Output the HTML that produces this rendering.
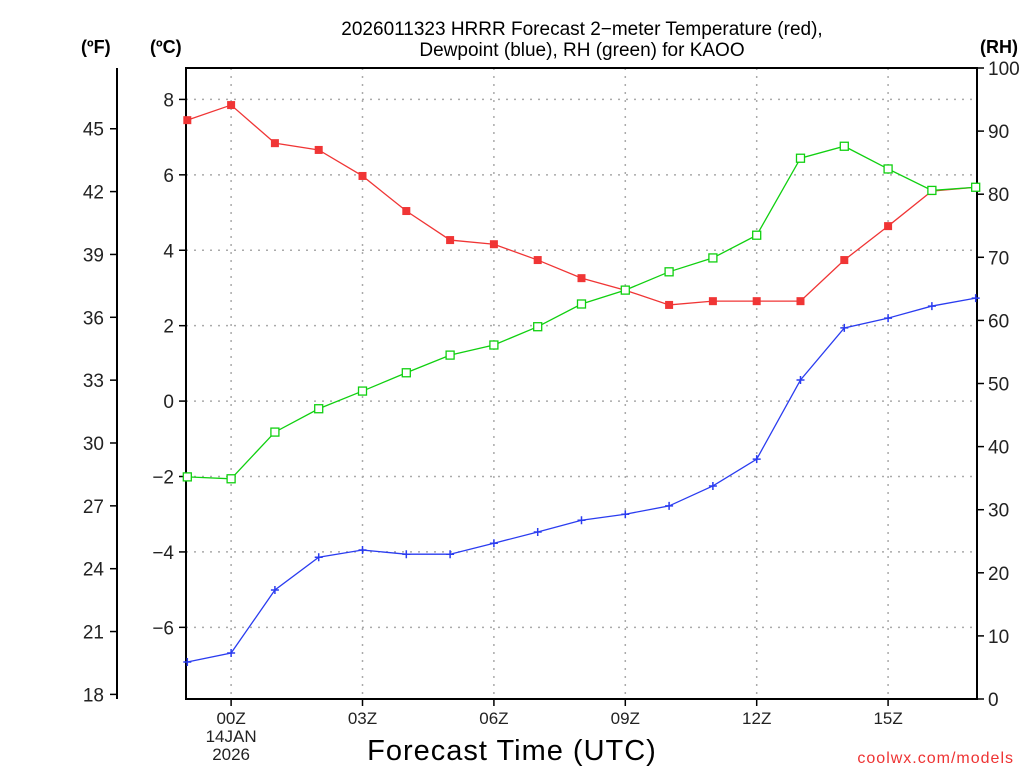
<!DOCTYPE html>
<html><head><meta charset="utf-8"><style>
html,body{margin:0;padding:0;background:#fff;}
svg text{font-family:"Liberation Sans",sans-serif;}
</style></head><body>
<svg id="chart" width="1024" height="768" xmlns="http://www.w3.org/2000/svg"></svg>
<script>
const hours = [-1,0,1,2,3,4,5,6,7,8,9,10,11,12,13,14,15,16,17];
const tempC = [7.45,7.85,6.84,6.66,5.97,5.04,4.27,4.16,3.74,3.26,2.94,2.55,2.65,2.65,2.65,3.74,4.64,5.57,5.67];
const dewC = [-6.92,-6.68,-5.01,-4.14,-3.95,-4.06,-4.06,-3.77,-3.47,-3.16,-3.00,-2.78,-2.25,-1.54,0.56,1.94,2.20,2.52,2.73];
const rh = [35.2,34.9,42.3,46.0,48.8,51.7,54.5,56.1,59.0,62.6,64.8,67.7,69.9,73.5,85.7,87.6,84.0,80.6,81.1];
const cTicks = [-6,-4,-2,0,2,4,6,8];
const fTicks = [18,21,24,27,30,33,36,39,42,45];
const rhTicks = [0,10,20,30,40,50,60,70,80,90,100];
const xTickHours = [0,3,6,9,12,15];
const xTickLabels = ["00Z","03Z","06Z","09Z","12Z","15Z"];

const svg = document.getElementById('chart');
const NS = "http://www.w3.org/2000/svg";
const L=186,R=977,T=68,B=699;
const xMin=-1.03,xMax=17.03;
const cMin=-7.9,cMax=8.833;
const X = h => L+(h-xMin)/(xMax-xMin)*(R-L);
const YC = c => B-(c-cMin)/(cMax-cMin)*(B-T);
const YF = f => YC((f-32)*5/9);
const YR = r => B-r/100*(B-T);
function el(tag, attrs, parent){const e=document.createElementNS(NS,tag);for(const k in attrs)e.setAttribute(k,attrs[k]);(parent||svg).appendChild(e);return e;}
function txt(s,x,y,attrs){const e=el('text',Object.assign({x:x,y:y},attrs||{}));e.textContent=s;return e;}

// grid
const grid = el('g',{});


cTicks.forEach(c=>el('line',{x1:L,x2:R,y1:YC(c),y2:YC(c),stroke:'#aaa','stroke-dasharray':'2,6','stroke-width':1.5},grid));
xTickHours.forEach(h=>el('line',{x1:X(h),x2:X(h),y1:T,y2:B,stroke:'#aaa','stroke-dasharray':'2,6','stroke-width':1.5},grid));

// frame
const frame = el('rect',{x:L,y:T,width:R-L,height:B-T,fill:'none',stroke:'#000','stroke-width':2});



// C axis
const cAx = el('g',{});


cTicks.forEach(c=>{el('line',{x1:L-7,x2:L,y1:YC(c),y2:YC(c),stroke:'#000','stroke-width':1.5},cAx);
 const t=txt((c<0?'\u2212':'')+Math.abs(c),L-12,YC(c)+7,{'text-anchor':'end','font-size':19,fill:'#222'});cAx.appendChild(t);});
// F axis
const fAx = el('g',{});


el('line',{x1:117,x2:117,y1:T,y2:B,stroke:'#000','stroke-width':2},fAx);
fTicks.forEach(f=>{el('line',{x1:110,x2:117,y1:YF(f),y2:YF(f),stroke:'#000','stroke-width':1.5},fAx);
 const t=txt(String(f),104,YF(f)+7,{'text-anchor':'end','font-size':19,fill:'#222'});fAx.appendChild(t);});
// RH axis
const rAx = el('g',{});


rhTicks.forEach(r=>{el('line',{x1:R,x2:R+7,y1:YR(r),y2:YR(r),stroke:'#000','stroke-width':1.5},rAx);
 const t=txt(String(r),988,YR(r)+7,{'font-size':19,fill:'#222'});rAx.appendChild(t);});
// X axis
const xAx = el('g',{});


xTickHours.forEach((h,i)=>{el('line',{x1:X(h),x2:X(h),y1:B,y2:B+7,stroke:'#000','stroke-width':1.5},xAx);
 const t=txt(xTickLabels[i],X(h),724,{'text-anchor':'middle','font-size':17,fill:'#222'});xAx.appendChild(t);});
const d1=txt('14JAN',X(0),742,{'text-anchor':'middle','font-size':17,fill:'#222'});


const d2=txt('2026',X(0),760,{'text-anchor':'middle','font-size':17,fill:'#222'});



// labels
const t1=txt('2026011323 HRRR Forecast 2\u2212meter Temperature (red),',582,35,{'text-anchor':'middle','font-size':19,fill:'#000'});


const t2=txt('Dewpoint (blue), RH (green) for KAOO',582,56,{'text-anchor':'middle','font-size':19,fill:'#000'});


const uf=txt('(\u00baF)',81,53,{'font-size':18,'font-weight':'bold'});


const uc=txt('(\u00baC)',150,53,{'font-size':18,'font-weight':'bold'});


const ur=txt('(RH)',980,53,{'font-size':18,'font-weight':'bold'});


const xt=txt('Forecast Time (UTC)',512,760,{'text-anchor':'middle','font-size':29,fill:'#000','letter-spacing':'1'});


const cr=txt('coolwx.com/models',1014,763,{'text-anchor':'end','font-size':16,fill:'#e33','letter-spacing':'1'});



// series
function series(vals, yf, color, name, marker){
 const g=el('g',{});
 
 
 el('polyline',{points:vals.map((v,i)=>X(hours[i])+','+yf(v)).join(' '),fill:'none',stroke:color,'stroke-width':1.3},g);
 vals.forEach((v,i)=>{const x=X(hours[i]),y=yf(v);let m;
  if(marker==='fill') m=el('rect',{x:x-4,y:y-4,width:8,height:8,fill:color},g);
  else if(marker==='open') m=el('rect',{x:x-4,y:y-4,width:8,height:8,fill:'#fff',stroke:color,'stroke-width':1.3},g);
  else m=el('path',{d:`M${x-4},${y}H${x+4}M${x},${y-4}V${y+4}`,stroke:color,'stroke-width':1.5},g);
  
  
 });
}
series(tempC,YC,'#f03535','temperature-series','fill');
series(dewC,YC,'#2a3cf0','dewpoint-series','plus');
series(rh,YR,'#10d010','rh-series','open');
</script>
</body></html>
